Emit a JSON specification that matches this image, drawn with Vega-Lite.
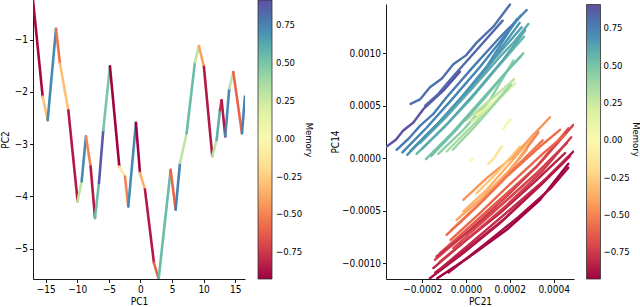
{
  "$schema": "https://vega.github.io/schema/vega-lite/v6.json",
  "padding": 0,
  "autosize": {"type": "pad"},
  "background": "white",
  "spacing": 141,
  "bounds": "flush",
  "config": {
    "font": "Liberation Sans Narrow, DejaVu Sans Condensed, DejaVu Sans, sans-serif",
    "view": {"stroke": null},
    "axis": {"grid": false, "domainColor": "#000", "tickColor": "#000", "labelColor": "#000", "titleColor": "#000", "labelFontSize": 10, "titleFontSize": 10, "titleFontWeight": "normal", "tickSize": 3.5, "labelPadding": 2, "domainWidth": 0.9, "tickWidth": 0.9, "titlePadding": 2},
    "legend": {"gradientVerticalMaxLength": 400, "labelFontSize": 9.5, "titleFontSize": 9.5, "titleFontWeight": "normal", "labelColor": "#000", "titleColor": "#000"}
  },
  "datasets": {
    "left": [
      {"x1":-17.0,"y1":-0.24,"x2":-15.47,"y2":-2.09,"m":-0.9},
      {"x1":-15.47,"y1":-2.09,"x2":-14.68,"y2":-2.54,"m":-0.3},
      {"x1":-14.68,"y1":-2.54,"x2":-13.36,"y2":-0.79,"m":0.72},
      {"x1":-13.36,"y1":-0.79,"x2":-12.73,"y2":-1.46,"m":-0.55},
      {"x1":-12.73,"y1":-1.46,"x2":-11.41,"y2":-2.35,"m":-0.3},
      {"x1":-11.41,"y1":-2.35,"x2":-9.94,"y2":-4.09,"m":-0.85},
      {"x1":-9.94,"y1":-4.09,"x2":-9.30,"y2":-3.71,"m":0.3},
      {"x1":-9.30,"y1":-3.71,"x2":-8.62,"y2":-2.85,"m":0.72},
      {"x1":-8.62,"y1":-2.85,"x2":-7.88,"y2":-3.43,"m":-0.5},
      {"x1":-7.88,"y1":-3.43,"x2":-7.19,"y2":-4.41,"m":-0.85},
      {"x1":-7.19,"y1":-4.41,"x2":-6.56,"y2":-3.74,"m":0.55},
      {"x1":-6.56,"y1":-3.74,"x2":-5.88,"y2":-2.73,"m":0.88},
      {"x1":-5.88,"y1":-2.73,"x2":-4.82,"y2":-1.51,"m":0.5},
      {"x1":-4.82,"y1":-1.51,"x2":-3.34,"y2":-3.43,"m":-0.92},
      {"x1":-3.34,"y1":-3.43,"x2":-2.45,"y2":-3.62,"m":-0.1},
      {"x1":-2.45,"y1":-3.62,"x2":-1.92,"y2":-4.19,"m":-0.5},
      {"x1":-1.92,"y1":-4.19,"x2":-0.71,"y2":-2.59,"m":0.72},
      {"x1":-0.71,"y1":-2.59,"x2":-0.07,"y2":-3.55,"m":-0.92},
      {"x1":-0.07,"y1":-3.55,"x2":0.72,"y2":-3.87,"m":-0.35},
      {"x1":0.72,"y1":-3.87,"x2":2.14,"y2":-5.27,"m":-0.85},
      {"x1":2.14,"y1":-5.27,"x2":2.88,"y2":-5.58,"m":-0.6},
      {"x1":2.88,"y1":-5.58,"x2":4.78,"y2":-3.49,"m":0.55},
      {"x1":4.78,"y1":-3.49,"x2":5.57,"y2":-4.25,"m":-0.6},
      {"x1":5.57,"y1":-4.25,"x2":6.26,"y2":-3.36,"m":0.75},
      {"x1":6.26,"y1":-3.36,"x2":7.31,"y2":-2.79,"m":0.3},
      {"x1":7.31,"y1":-2.79,"x2":8.63,"y2":-1.43,"m":0.55},
      {"x1":8.63,"y1":-1.43,"x2":9.26,"y2":-1.12,"m":0.3},
      {"x1":9.26,"y1":-1.12,"x2":10.05,"y2":-1.52,"m":-0.4},
      {"x1":10.05,"y1":-1.52,"x2":11.37,"y2":-3.23,"m":-0.85},
      {"x1":11.37,"y1":-3.23,"x2":12.06,"y2":-2.92,"m":0.3},
      {"x1":12.06,"y1":-2.92,"x2":12.58,"y2":-2.35,"m":0.6},
      {"x1":12.58,"y1":-2.35,"x2":12.85,"y2":-2.16,"m":-0.75},
      {"x1":12.85,"y1":-2.16,"x2":13.43,"y2":-2.85,"m":-0.85},
      {"x1":13.43,"y1":-2.85,"x2":14.06,"y2":-1.93,"m":0.72},
      {"x1":14.06,"y1":-1.93,"x2":14.70,"y2":-1.62,"m":0.3},
      {"x1":14.70,"y1":-1.62,"x2":16.07,"y2":-2.79,"m":-0.6},
      {"x1":16.07,"y1":-2.79,"x2":16.54,"y2":-2.09,"m":0.75}
    ],
    "right": [
      {"l":"U1","x":-2.527e-4,"y":5.175e-4,"m":0.8},{"l":"U1","x":-2.1e-4,"y":5.6e-4,"m":0.8},{"l":"U1","x":-1.644e-4,"y":6.762e-4,"m":0.8},{"l":"U1","x":-1.1e-4,"y":7.6e-4,"m":0.8},{"l":"U1","x":-0.578e-4,"y":8.95e-4,"m":0.8},{"l":"U1","x":0.0e-4,"y":9.8e-4,"m":0.8},{"l":"U1","x":0.487e-4,"y":11.016e-4,"m":0.8},{"l":"U1","x":1.248e-4,"y":12.54e-4,"m":0.8},{"l":"U1","x":2.009e-4,"y":14.65e-4,"m":0.8},
      {"l":"U2","x":-3.623e-4,"y":1.111e-4,"m":0.9},{"l":"U2","x":-3.2e-4,"y":1.75e-4,"m":0.9},{"l":"U2","x":-2.861e-4,"y":2.635e-4,"m":0.9},{"l":"U2","x":-2.4e-4,"y":3.4e-4,"m":0.9},{"l":"U2","x":-1.948e-4,"y":4.667e-4,"m":0.9},{"l":"U2","x":-1.035e-4,"y":6.444e-4,"m":0.9},{"l":"U2","x":-0.274e-4,"y":8.254e-4,"m":0.9},
      {"l":"U3","x":-3.166e-4,"y":0.794e-4,"m":0.77},{"l":"U3","x":-2.6e-4,"y":1.9e-4,"m":0.77},{"l":"U3","x":-2.1e-4,"y":3.079e-4,"m":0.77},{"l":"U3","x":-1.5e-4,"y":4.2e-4,"m":0.77},{"l":"U3","x":-0.883e-4,"y":5.81e-4,"m":0.77},{"l":"U3","x":0.335e-4,"y":8.73e-4,"m":0.77},{"l":"U3","x":1.553e-4,"y":11.524e-4,"m":0.77},{"l":"U3","x":2.77e-4,"y":14.127e-4,"m":0.77},
      {"l":"U4","x":-1.872e-4,"y":4.984e-4,"m":0.83},{"l":"U4","x":-1.3e-4,"y":6.05e-4,"m":0.83},{"l":"U4","x":-0.731e-4,"y":7.46e-4,"m":0.83},{"l":"U4","x":0.487e-4,"y":10.317e-4,"m":0.83},{"l":"U4","x":1.674e-4,"y":13.111e-4,"m":0.83},
      {"l":"U5","x":-2.679e-4,"y":0.317e-4,"m":0.7},{"l":"U5","x":-1.492e-4,"y":2.857e-4,"m":0.7},{"l":"U5","x":-0.9e-4,"y":4.05e-4,"m":0.7},{"l":"U5","x":-0.274e-4,"y":5.619e-4,"m":0.7},{"l":"U5","x":0.944e-4,"y":8.73e-4,"m":0.7},{"l":"U5","x":2.314e-4,"y":13.238e-4,"m":0.7},
      {"l":"U6","x":-2.405e-4,"y":0.952e-4,"m":0.65},{"l":"U6","x":-1.187e-4,"y":3.492e-4,"m":0.65},{"l":"U6","x":0.03e-4,"y":6.349e-4,"m":0.65},{"l":"U6","x":0.6e-4,"y":7.6e-4,"m":0.65},{"l":"U6","x":1.248e-4,"y":9.365e-4,"m":0.65},{"l":"U6","x":2.542e-4,"y":12.476e-4,"m":0.65},
      {"l":"U7","x":-2.1e-4,"y":1.429e-4,"m":0.6},{"l":"U7","x":-0.883e-4,"y":3.968e-4,"m":0.6},{"l":"U7","x":0.335e-4,"y":6.762e-4,"m":0.6},{"l":"U7","x":1.553e-4,"y":9.683e-4,"m":0.6},{"l":"U7","x":2.2e-4,"y":11.1e-4,"m":0.6},{"l":"U7","x":2.846e-4,"y":12.794e-4,"m":0.6},
      {"l":"U8","x":-2.253e-4,"y":0.413e-4,"m":0.56},{"l":"U8","x":-1.035e-4,"y":2.857e-4,"m":0.56},{"l":"U8","x":0.183e-4,"y":5.556e-4,"m":0.56},{"l":"U8","x":1.4e-4,"y":8.571e-4,"m":0.56},{"l":"U8","x":2.648e-4,"y":11.587e-4,"m":0.56},
      {"l":"U9","x":-1.826e-4,"y":-0.095e-4,"m":0.5},{"l":"U9","x":-0.578e-4,"y":2.54e-4,"m":0.5},{"l":"U9","x":0.639e-4,"y":5.397e-4,"m":0.5},{"l":"U9","x":1.857e-4,"y":8.254e-4,"m":0.5},{"l":"U9","x":2.618e-4,"y":10.0e-4,"m":0.5},
      {"l":"U10","x":-1.263e-4,"y":0.413e-4,"m":0.44},{"l":"U10","x":-0.122e-4,"y":2.698e-4,"m":0.44},{"l":"U10","x":1.096e-4,"y":5.556e-4,"m":0.44},{"l":"U10","x":2.161e-4,"y":9.302e-4,"m":0.44},
      {"l":"U11","x":-0.883e-4,"y":0.635e-4,"m":0.36},{"l":"U11","x":0.183e-4,"y":2.857e-4,"m":0.36},{"l":"U11","x":1.248e-4,"y":5.238e-4,"m":0.36},{"l":"U11","x":1.933e-4,"y":6.762e-4,"m":0.36},
      {"l":"U12","x":0.03e-4,"y":3.651e-4,"m":0.3},{"l":"U12","x":0.791e-4,"y":5.0e-4,"m":0.3},{"l":"U12","x":1.553e-4,"y":6.35e-4,"m":0.3},{"l":"U12","x":2.192e-4,"y":7.524e-4,"m":0.3},
      {"l":"U13","x":0.259e-4,"y":3.492e-4,"m":0.22},{"l":"U13","x":0.944e-4,"y":4.603e-4,"m":0.22},{"l":"U13","x":1.705e-4,"y":6.032e-4,"m":0.22},{"l":"U13","x":2.237e-4,"y":7.143e-4,"m":0.22},
      {"l":"U14","x":0.487e-4,"y":4.127e-4,"m":0.15},{"l":"U14","x":1.096e-4,"y":5.079e-4,"m":0.15},{"l":"U14","x":1.705e-4,"y":6.19e-4,"m":0.15},
      {"l":"U15","x":1.705e-4,"y":2.762e-4,"m":0.05},{"l":"U15","x":1.857e-4,"y":3.27e-4,"m":0.05},{"l":"U15","x":2.04e-4,"y":3.651e-4,"m":0.05},
      {"l":"U16","x":0.213e-4,"y":-0.222e-4,"m":0.0},{"l":"U16","x":0.335e-4,"y":-0.032e-4,"m":0.0},
      {"l":"U17","x":-2.9e-4,"y":0.55e-4,"m":0.74},{"l":"U17","x":-1.8e-4,"y":2.9e-4,"m":0.74},{"l":"U17","x":-0.6e-4,"y":5.7e-4,"m":0.74},{"l":"U17","x":0.6e-4,"y":8.6e-4,"m":0.74},{"l":"U17","x":1.9e-4,"y":12.0e-4,"m":0.74},{"l":"U17","x":2.5e-4,"y":13.6e-4,"m":0.74},
      {"l":"U18","x":-2.55e-4,"y":0.65e-4,"m":0.68},{"l":"U18","x":-1.35e-4,"y":3.15e-4,"m":0.68},{"l":"U18","x":-0.12e-4,"y":6.0e-4,"m":0.68},{"l":"U18","x":1.1e-4,"y":9.05e-4,"m":0.68},{"l":"U18","x":2.45e-4,"y":12.9e-4,"m":0.68},
      {"l":"U19","x":-2.0e-4,"y":0.9e-4,"m":0.62},{"l":"U19","x":-0.8e-4,"y":3.4e-4,"m":0.62},{"l":"U19","x":0.45e-4,"y":6.3e-4,"m":0.62},{"l":"U19","x":1.7e-4,"y":9.4e-4,"m":0.62},{"l":"U19","x":2.7e-4,"y":12.2e-4,"m":0.62},
      {"l":"U20","x":-1.6e-4,"y":0.2e-4,"m":0.52},{"l":"U20","x":-0.4e-4,"y":2.8e-4,"m":0.52},{"l":"U20","x":0.8e-4,"y":5.6e-4,"m":0.52},{"l":"U20","x":2.0e-4,"y":8.6e-4,"m":0.52},{"l":"U20","x":2.5e-4,"y":9.7e-4,"m":0.52},
      {"l":"U21","x":-0.6e-4,"y":0.8e-4,"m":0.4},{"l":"U21","x":0.4e-4,"y":3.0e-4,"m":0.4},{"l":"U21","x":1.4e-4,"y":5.4e-4,"m":0.4},{"l":"U21","x":2.05e-4,"y":7.0e-4,"m":0.4},
      {"l":"L1","x":-0.122e-4,"y":-3.968e-4,"m":-0.45},{"l":"L1","x":0.944e-4,"y":-1.905e-4,"m":-0.45},{"l":"L1","x":2.161e-4,"y":0.159e-4,"m":-0.45},{"l":"L1","x":3.075e-4,"y":2.222e-4,"m":-0.45},{"l":"L1","x":3.836e-4,"y":3.905e-4,"m":-0.45},
      {"l":"L2","x":-0.122e-4,"y":-5.079e-4,"m":-0.35},{"l":"L2","x":0.944e-4,"y":-3.016e-4,"m":-0.35},{"l":"L2","x":2.009e-4,"y":-0.476e-4,"m":-0.35},{"l":"L2","x":3.075e-4,"y":2.063e-4,"m":-0.35},
      {"l":"L3","x":0.487e-4,"y":-3.333e-4,"m":-0.28},{"l":"L3","x":1.4e-4,"y":-1.429e-4,"m":-0.28},{"l":"L3","x":2.466e-4,"y":1.111e-4,"m":-0.28},
      {"l":"L4","x":-0.654e-4,"y":-6.825e-4,"m":-0.5},{"l":"L4","x":0.487e-4,"y":-4.603e-4,"m":-0.5},{"l":"L4","x":1.705e-4,"y":-2.063e-4,"m":-0.5},{"l":"L4","x":3.303e-4,"y":2.444e-4,"m":-0.5},
      {"l":"L5","x":-0.883e-4,"y":-7.302e-4,"m":-0.58},{"l":"L5","x":0.335e-4,"y":-4.921e-4,"m":-0.58},{"l":"L5","x":1.857e-4,"y":-1.746e-4,"m":-0.58},{"l":"L5","x":3.379e-4,"y":1.111e-4,"m":-0.58},{"l":"L5","x":4.292e-4,"y":2.698e-4,"m":-0.58},
      {"l":"L6","x":-1.187e-4,"y":-9.048e-4,"m":-0.65},{"l":"L6","x":0.183e-4,"y":-6.508e-4,"m":-0.65},{"l":"L6","x":1.705e-4,"y":-3.651e-4,"m":-0.65},{"l":"L6","x":3.227e-4,"y":-0.794e-4,"m":-0.65},{"l":"L6","x":4.673e-4,"y":2.857e-4,"m":-0.65},
      {"l":"L7","x":-1.416e-4,"y":-9.683e-4,"m":-0.72},{"l":"L7","x":0.183e-4,"y":-6.825e-4,"m":-0.72},{"l":"L7","x":1.857e-4,"y":-3.651e-4,"m":-0.72},{"l":"L7","x":3.379e-4,"y":-0.476e-4,"m":-0.72},{"l":"L7","x":4.901e-4,"y":3.175e-4,"m":-0.72},
      {"l":"L8","x":-1.339e-4,"y":-9.365e-4,"m":-0.78},{"l":"L8","x":0.03e-4,"y":-7.143e-4,"m":-0.78},{"l":"L8","x":1.705e-4,"y":-4.286e-4,"m":-0.78},{"l":"L8","x":3.227e-4,"y":-1.429e-4,"m":-0.78},{"l":"L8","x":4.597e-4,"y":1.429e-4,"m":-0.78},
      {"l":"L9","x":-1.492e-4,"y":-10.476e-4,"m":-0.83},{"l":"L9","x":0.03e-4,"y":-7.778e-4,"m":-0.83},{"l":"L9","x":1.553e-4,"y":-5.238e-4,"m":-0.83},{"l":"L9","x":3.075e-4,"y":-2.381e-4,"m":-0.83},{"l":"L9","x":4.521e-4,"y":0.476e-4,"m":-0.83},
      {"l":"L10","x":-1.644e-4,"y":-11.45e-4,"m":-0.88},{"l":"L10","x":-0.122e-4,"y":-9.048e-4,"m":-0.88},{"l":"L10","x":1.553e-4,"y":-6.19e-4,"m":-0.88},{"l":"L10","x":3.227e-4,"y":-2.857e-4,"m":-0.88},{"l":"L10","x":4.901e-4,"y":0.635e-4,"m":-0.88},
      {"l":"L11","x":-1.309e-4,"y":-11.45e-4,"m":-0.93},{"l":"L11","x":0.183e-4,"y":-9.365e-4,"m":-0.93},{"l":"L11","x":1.857e-4,"y":-6.825e-4,"m":-0.93},{"l":"L11","x":3.379e-4,"y":-3.968e-4,"m":-0.93},{"l":"L11","x":4.673e-4,"y":-0.54e-4,"m":-0.93},
      {"l":"L12","x":-1.035e-4,"y":-10.317e-4,"m":-0.8},{"l":"L12","x":0.487e-4,"y":-7.619e-4,"m":-0.8},{"l":"L12","x":2.009e-4,"y":-4.921e-4,"m":-0.8},{"l":"L12","x":3.683e-4,"y":-1.905e-4,"m":-0.8},{"l":"L12","x":4.673e-4,"y":0.159e-4,"m":-0.8},
      {"l":"L13","x":-0.578e-4,"y":-8.571e-4,"m":-0.7},{"l":"L13","x":0.791e-4,"y":-6.032e-4,"m":-0.7},{"l":"L13","x":2.314e-4,"y":-3.175e-4,"m":-0.7},{"l":"L13","x":3.988e-4,"y":0.0,"m":-0.7},
      {"l":"L14","x":-0.426e-4,"y":-5.873e-4,"m":-0.4},{"l":"L14","x":0.639e-4,"y":-3.968e-4,"m":-0.4},{"l":"L14","x":1.857e-4,"y":-1.429e-4,"m":-0.4},{"l":"L14","x":2.77e-4,"y":0.794e-4,"m":-0.4},
      {"l":"L15","x":1.02e-4,"y":-0.54e-4,"m":-0.15},{"l":"L15","x":1.248e-4,"y":-0.095e-4,"m":-0.15},{"l":"L15","x":1.629e-4,"y":1.111e-4,"m":-0.15},
      {"l":"L16","x":-0.7e-4,"y":-7.8e-4,"m":-0.6},{"l":"L16","x":0.6e-4,"y":-5.3e-4,"m":-0.6},{"l":"L16","x":2.0e-4,"y":-2.5e-4,"m":-0.6},{"l":"L16","x":3.6e-4,"y":0.6e-4,"m":-0.6},{"l":"L16","x":4.5e-4,"y":2.2e-4,"m":-0.6},
      {"l":"L17","x":-1.2e-4,"y":-9.9e-4,"m":-0.75},{"l":"L17","x":0.3e-4,"y":-7.3e-4,"m":-0.75},{"l":"L17","x":1.9e-4,"y":-4.4e-4,"m":-0.75},{"l":"L17","x":3.5e-4,"y":-1.2e-4,"m":-0.75},{"l":"L17","x":4.8e-4,"y":2.0e-4,"m":-0.75},
      {"l":"L18","x":-1.4e-4,"y":-10.9e-4,"m":-0.85},{"l":"L18","x":0.2e-4,"y":-8.4e-4,"m":-0.85},{"l":"L18","x":1.8e-4,"y":-5.7e-4,"m":-0.85},{"l":"L18","x":3.4e-4,"y":-2.6e-4,"m":-0.85},{"l":"L18","x":4.75e-4,"y":0.2e-4,"m":-0.85},
      {"l":"L19","x":-0.3e-4,"y":-6.2e-4,"m":-0.55},{"l":"L19","x":0.8e-4,"y":-4.0e-4,"m":-0.55},{"l":"L19","x":2.1e-4,"y":-1.2e-4,"m":-0.55},{"l":"L19","x":3.5e-4,"y":1.7e-4,"m":-0.55},
      {"l":"L20","x":-0.8e-4,"y":-10.9e-4,"m":-0.9},{"l":"L20","x":0.8e-4,"y":-8.3e-4,"m":-0.9},{"l":"L20","x":2.4e-4,"y":-5.6e-4,"m":-0.9},{"l":"L20","x":3.9e-4,"y":-2.8e-4,"m":-0.9},{"l":"L20","x":4.67e-4,"y":-0.9e-4,"m":-0.9}
    ]
  },
  "resolve": {"scale": {"color": "independent"}, "legend": {"color": "independent"}},
  "hconcat": [
    {
      "width": 212,
      "height": 279,
      "data": {"name": "left"},
      "mark": {"type": "rule", "strokeWidth": 2.6, "strokeCap": "round", "clip": true},
      "encoding": {
        "x": {"field": "x1", "type": "quantitative", "scale": {"domain": [-17.0, 16.55], "nice": false, "zero": false}, "axis": {"values": [-15, -10, -5, 0, 5, 10, 15], "format": "d", "title": "PC1"}},
        "x2": {"field": "x2"},
        "y": {"field": "y1", "type": "quantitative", "scale": {"domain": [-5.58, -0.24], "nice": false, "zero": false}, "axis": {"values": [-5, -4, -3, -2, -1], "format": "d", "title": "PC2", "titleX": -23}},
        "y2": {"field": "y2"},
        "color": {"field": "m", "type": "quantitative", "scale": {"scheme": "spectral", "domain": [-0.926, 0.915]},
          "legend": {"title": "Memory", "orient": "right", "direction": "vertical", "titleOrient": "right", "titleAnchor": "middle", "gradientLength": 279, "gradientThickness": 14, "offset": 13, "padding": 0, "values": [-0.75, -0.5, -0.25, 0, 0.25, 0.5, 0.75], "format": ".2f", "labelOffset": 4, "labelOverlap": false, "titlePadding": 2, "gradientStrokeColor": "#333", "gradientStrokeWidth": 0.8}}
      }
    },
    {
      "width": 188,
      "height": 279,
      "data": {"name": "right"},
      "mark": {"type": "line", "strokeWidth": 2.4, "strokeCap": "round", "strokeJoin": "round", "clip": true},
      "encoding": {
        "x": {"field": "x", "type": "quantitative", "scale": {"domain": [-0.000365, 0.000493], "nice": false, "zero": false}, "axis": {"values": [-0.0002, 0, 0.0002, 0.0004], "format": ".4f", "title": "PC21"}},
        "y": {"field": "y", "type": "quantitative", "scale": {"domain": [-0.001152, 0.00147], "nice": false, "zero": false, "range": [279, 4]}, "axis": {"values": [-0.001, -0.0005, 0, 0.0005, 0.001], "format": ".4f", "title": "PC14", "titleX": -46}},
        "detail": {"field": "l", "type": "nominal"},
        "color": {"field": "m", "type": "quantitative", "scale": {"scheme": "spectral", "domain": [-0.93, 0.91]},
          "legend": {"title": "Memory", "orient": "right", "direction": "vertical", "titleOrient": "right", "titleAnchor": "middle", "gradientLength": 274.5, "gradientThickness": 14, "offset": 7.5, "padding": 4.5, "values": [-0.75, -0.5, -0.25, 0, 0.25, 0.5, 0.75], "format": ".2f", "labelOffset": 3, "labelOverlap": false, "titlePadding": 1, "gradientStrokeColor": "#333", "gradientStrokeWidth": 0.8}}
      }
    }
  ]
}
